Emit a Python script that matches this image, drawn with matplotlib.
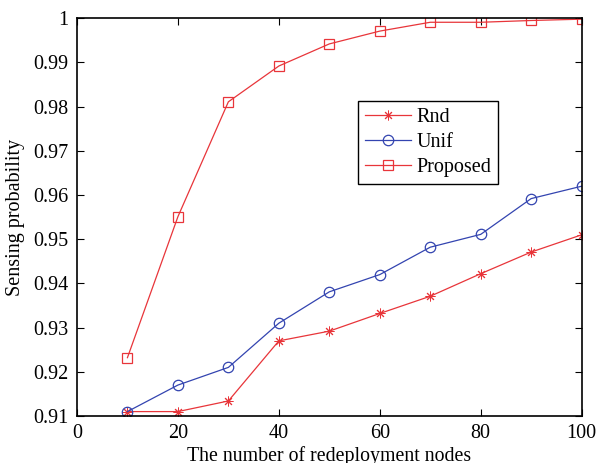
import matplotlib
matplotlib.use("Agg")
import matplotlib.pyplot as plt

plt.rcParams["font.family"] = ["Liberation Serif", "DejaVu Serif"]

nodes = [10, 20, 30, 40, 50, 60, 70, 80, 90, 100]
rnd = [0.911, 0.911, 0.9134, 0.927, 0.9292, 0.9332, 0.9371, 0.9422, 0.9471, 0.951]
unif = [0.911, 0.917, 0.921, 0.931, 0.9381, 0.942, 0.9482, 0.9511, 0.9592, 0.962]
proposed = [0.9232, 0.9551, 0.9811, 0.9892, 0.9942, 0.9971, 0.9991, 0.9991, 0.9995, 0.9998]

red = "#e8353a"
blue = "#3344b0"

fig = plt.figure(figsize=(5.99, 4.63), dpi=100)
ax = fig.add_axes([0.1285, 0.1015, 0.8425, 0.859])

# asterisk marker: 8 spokes
ax.plot(nodes, rnd, color=red, lw=0.9, marker=(8, 2, 0), ms=7, mew=0.7,
        label="Rnd")
ax.plot(nodes, unif, color=blue, lw=0.9, marker="o", ms=7.5, mew=0.9,
        markerfacecolor="none", label="Unif")
ax.plot(nodes, proposed, color=red, lw=0.9, marker="s", ms=7.5, mew=0.9,
        markerfacecolor="none", label="Proposed")

ax.set_xlim(0, 100)
ax.set_ylim(0.91, 1.0)
ax.set_xticks(range(0, 101, 20))
yt = [0.91 + 0.01 * i for i in range(10)]
ax.set_yticks(yt)
ax.set_yticklabels(["%g" % round(v, 2) for v in yt])
ax.tick_params(direction="in", top=True, right=True, labelsize=14.5,
               length=5, width=0.8, pad=6)
for s in ax.spines.values():
    s.set_linewidth(1.2)

ax.set_xlabel("The number of redeployment nodes", fontsize=14.3, labelpad=2)
ax.set_ylabel("Sensing probability", fontsize=14.5, labelpad=6)

leg = ax.legend(loc="upper left", bbox_to_anchor=(0.557, 0.792), fontsize=14.5,
                fancybox=False, edgecolor="black", framealpha=1,
                handlelength=2.3, handletextpad=0.25, borderpad=0.35,
                labelspacing=0.28, borderaxespad=0)
leg.get_frame().set_linewidth(1.0)

fig.savefig("out.png", dpi=100)
